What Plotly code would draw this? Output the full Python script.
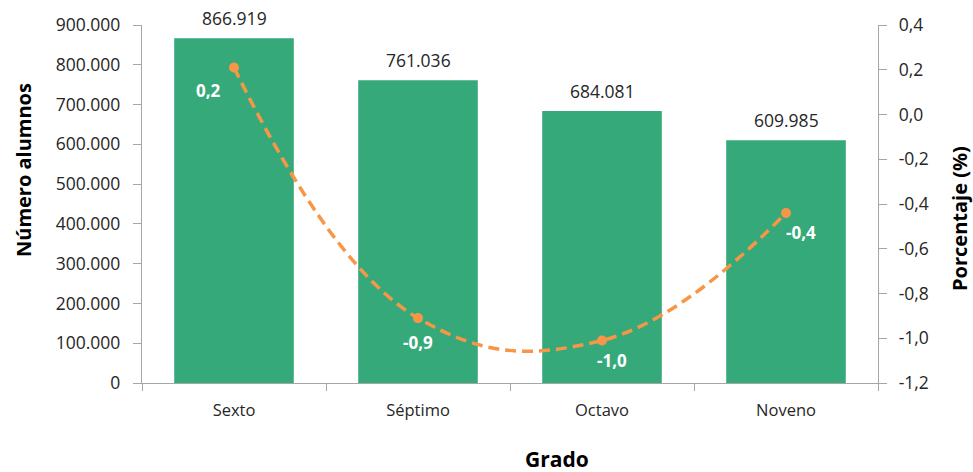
import plotly.graph_objects as go

grados = ["Sexto", "Séptimo", "Octavo", "Noveno"]
alumnos = [866919, 761036, 684081, 609985]
porcentaje = [0.21, -0.91, -1.01, -0.44]
porc_labels = ["0,2", "-0,9", "-1,0", "-0,4"]
bar_labels = ["866.919", "761.036", "684.081", "609.985"]
left_ticks = [0, 100000, 200000, 300000, 400000, 500000, 600000, 700000, 800000, 900000]
left_ticktext = ["0", "100.000", "200.000", "300.000", "400.000", "500.000",
                 "600.000", "700.000", "800.000", "900.000"]
right_ticks = [-1.2, -1.0, -0.8, -0.6, -0.4, -0.2, 0.0, 0.2, 0.4]
right_ticktext = ["-1,2", "-1,0", "-0,8", "-0,6", "-0,4", "-0,2", "0,0", "0,2", "0,4"]

GREEN = "#36A97A"
ORANGE = "#F79646"
AXIS = "#A6A6A6"
TXT = "#262626"
FONT = "Open Sans"
NUM = 17.5

fig = go.Figure()
fig.add_trace(go.Bar(
    x=grados, y=alumnos, marker_color=GREEN, marker_line_width=0,
    yaxis="y", showlegend=False, hoverinfo="x+y",
))
fig.add_trace(go.Scatter(
    x=grados, y=porcentaje, yaxis="y2", mode="lines+markers",
    line=dict(color=ORANGE, width=3.5, dash="11px,6px", shape="spline", smoothing=1.2),
    marker=dict(size=10, color=ORANGE), showlegend=False,
))

for g, v, lab in zip(grados, alumnos, bar_labels):
    fig.add_annotation(x=g, y=v, xref="x", yref="y", text=lab, showarrow=False,
                       yanchor="bottom", yshift=6,
                       font=dict(size=NUM, color=TXT, family=FONT))

shifts = [(-26, -23), (0, -24), (10, -20), (15, -20)]
for g, v, lab, (dx, dy) in zip(grados, porcentaje, porc_labels, shifts):
    fig.add_annotation(x=g, y=v, xref="x", yref="y2", text="<b>%s</b>" % lab,
                       showarrow=False, xshift=dx, yshift=dy,
                       font=dict(size=17, color="white", family=FONT))

# axis titles
TITLE_FONT = dict(size=20, color="black", family=FONT)
fig.add_annotation(text="<b>Número alumnos</b>", xref="paper", yref="paper",
                   x=-0.1603, y=0.595, xanchor="center", yanchor="middle",
                   textangle=-90, showarrow=False, font=TITLE_FONT)
fig.add_annotation(text="<b>Porcentaje (%)</b>", xref="paper", yref="paper",
                   x=1.1114, y=0.461, xanchor="center", yanchor="middle",
                   textangle=-90, showarrow=False, font=TITLE_FONT)
fig.add_annotation(text="<b>Grado</b>", xref="paper", yref="paper",
                   x=0.5639, y=-0.2123, xanchor="center", yanchor="middle",
                   showarrow=False, font=dict(TITLE_FONT, size=21))

axis_common = dict(showline=True, linecolor=AXIS, linewidth=1.3, ticks="outside",
                   ticklen=8, tickcolor=AXIS, showgrid=False, zeroline=False,
                   automargin=False)

fig.update_layout(
    width=973, height=472,
    margin=dict(l=142, r=95, t=25, b=89),
    paper_bgcolor="white", plot_bgcolor="white",
    bargap=0.35,
    font=dict(family=FONT, size=16, color=TXT),
    xaxis=dict(axis_common, tickson="boundaries", ticklen=7,
               tickfont=dict(size=16.5, color=TXT), ticklabelstandoff=12),
    yaxis=dict(axis_common, range=[0, 900000], tickvals=left_ticks, ticktext=left_ticktext,
               tickfont=dict(size=NUM, color=TXT), ticklabelstandoff=9),
    yaxis2=dict(axis_common, range=[-1.2, 0.4], tickvals=right_ticks, ticktext=right_ticktext,
                overlaying="y", side="right",
                tickfont=dict(size=NUM, color=TXT), ticklabelstandoff=8),
)

fig.write_html("out.html", config={"displayModeBar": False},
               post_script="document.body.style.margin='0';")
